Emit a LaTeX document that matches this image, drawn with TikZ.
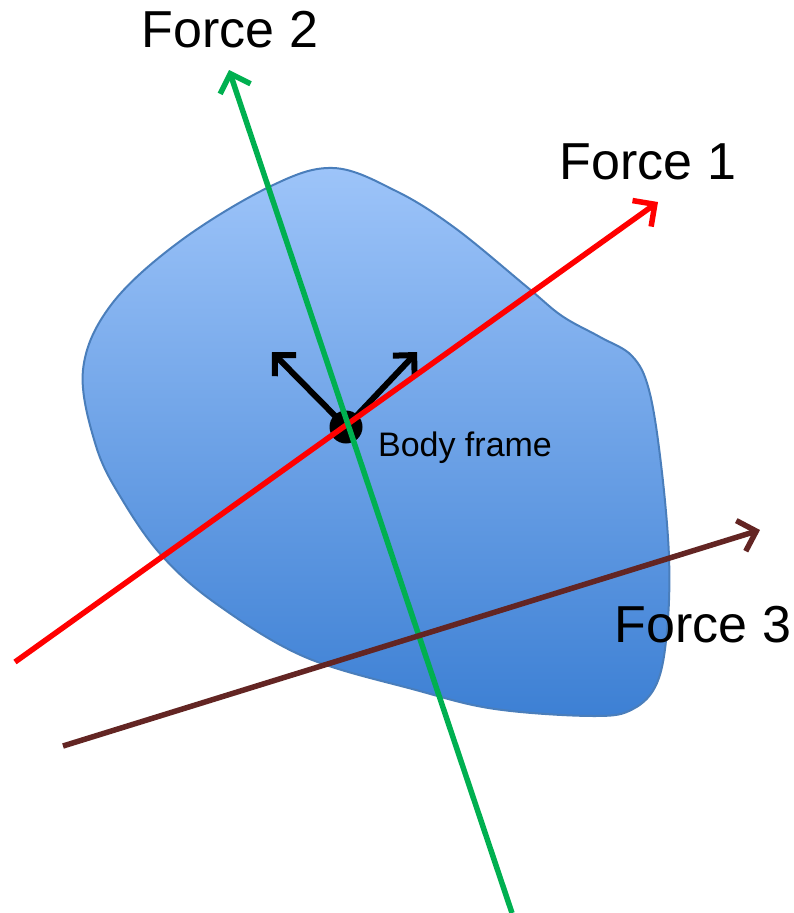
\documentclass[tikz,border=0pt]{standalone}
\usepackage{fontspec}
\setmainfont{Liberation Sans}
\usetikzlibrary{arrows.meta}
\definecolor{blobtop}{HTML}{9DC4F9}
\definecolor{blobbot}{HTML}{3D80D4}
\definecolor{blobline}{HTML}{4A7EBB}
\definecolor{fgreen}{HTML}{00B050}
\definecolor{fred}{HTML}{FF0000}
\definecolor{fbrown}{HTML}{632523}
\begin{document}
\begin{tikzpicture}[x=1pt,y=-1pt,
  force/.style={line width=5.5pt, -{Straight Barb[length=16pt,width=32pt,line width=5.5pt]}},
  axis/.style={line width=6pt, black, -{Straight Barb[length=15pt,width=30pt,line width=6pt]}},
  lbl/.style={font=\fontsize{52}{52}\selectfont, inner sep=0pt},
  small/.style={font=\fontsize{34}{34}\selectfont, inner sep=0pt}]
\useasboundingbox (0,0) rectangle (794,913);
% body
\shade[top color=blobtop, bottom color=blobbot, draw=blobline, line width=2pt]
  plot[smooth cycle, tension=0.6] coordinates {
  (333,168) (269,187) (179,242) (111,305) (83,370) (96,446) (123,501)
  (163,557) (218,605) (305,657) (416,690) (495,709) (594,716) (633,709)
  (657,683) (667,631) (669,557) (661,464) (649,390) (632,356) (600,337)
  (562,316) (527,287) (455,228) (396,191)};
% coordinates
\coordinate (O) at (346,427);
\coordinate (r0) at (15,662);
\coordinate (r1) at (658,202);
\coordinate (g0) at (512,913);
\coordinate (g1) at (229,70);
\coordinate (b0) at (63,746);
\coordinate (b1) at (760,530);
\coordinate (ax1) at (272,352);
\coordinate (ax2) at (417,352);
% body frame axes
\draw[axis] (O) -- (ax1);
\draw[axis] (O) -- (ax2);
\node[circle, fill=black, minimum size=33pt, inner sep=0pt] (dot) at (O) {};
% forces
\draw[force, fred] (r0) -- (r1);
\draw[force, fgreen] (g0) -- (g1);
\draw[force, fbrown] (b0) -- (b1);
% labels
\node[lbl] (F1) at (648,162) {Force 1};
\node[lbl] (F2) at (230,30) {Force 2};
\node[lbl] (F3) at (703,625) {Force 3};
\node[small] (BF) at (465,448) {Body frame};
\end{tikzpicture}
\end{document}
